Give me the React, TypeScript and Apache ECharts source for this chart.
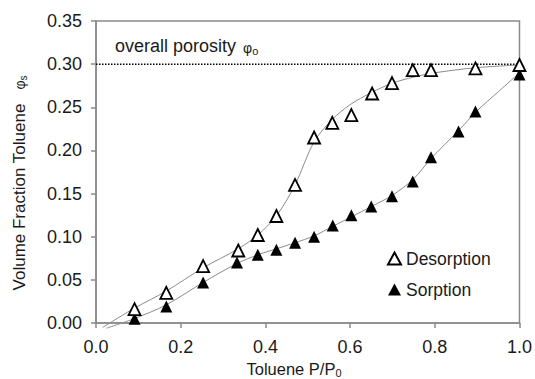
import React, { useEffect, useRef } from "react";
import * as echarts from "echarts";

// Measured points (markers)
const desorptionX = [0.091, 0.166, 0.253, 0.336, 0.382, 0.426, 0.47, 0.515, 0.558, 0.603, 0.652, 0.699, 0.748, 0.791, 0.896, 1.0];
const desorptionY = [0.016, 0.035, 0.066, 0.084, 0.102, 0.124, 0.16, 0.215, 0.232, 0.241, 0.266, 0.278, 0.293, 0.293, 0.295, 0.299];

const sorptionX = [0.091, 0.166, 0.253, 0.333, 0.382, 0.426, 0.47, 0.515, 0.559, 0.603, 0.65, 0.699, 0.748, 0.791, 0.856, 0.896, 1.0];
const sorptionY = [0.005, 0.019, 0.047, 0.07, 0.079, 0.085, 0.093, 0.1, 0.113, 0.125, 0.135, 0.147, 0.164, 0.192, 0.222, 0.245, 0.288];

// Fitted curves
const desFitX = [0.016, 0.09, 0.166, 0.253, 0.336, 0.382, 0.426, 0.47, 0.515, 0.558, 0.6, 0.65, 0.7, 0.75, 0.8, 0.9, 1.0];
const desFitY = [-0.005, 0.017, 0.037, 0.064, 0.086, 0.102, 0.124, 0.16, 0.21, 0.236, 0.253, 0.267, 0.278, 0.285, 0.29, 0.296, 0.299];

const sorFitX = [0.025, 0.09, 0.166, 0.253, 0.333, 0.382, 0.426, 0.47, 0.515, 0.559, 0.603, 0.65, 0.7, 0.75, 0.79, 0.856, 0.9, 0.95, 1.0];
const sorFitY = [-0.006, 0.005, 0.021, 0.047, 0.069, 0.079, 0.086, 0.093, 0.101, 0.112, 0.123, 0.135, 0.148, 0.167, 0.19, 0.223, 0.246, 0.268, 0.29];

const porosityX = [0, 1];
const porosityY = [0.3, 0.3];

const xTicks = { min: 0, max: 1, interval: 0.2 };
const yTicks = { min: 0, max: 0.35, interval: 0.05 };

const zip = (xs: number[], ys: number[]) => xs.map((x, i) => [x, ys[i]]);

const FONT = "'Liberation Sans', Arial, sans-serif";

export default function App() {
  const ref = useRef<HTMLDivElement>(null);
  useEffect(() => {
    if (!ref.current) return;
    const chart = echarts.init(ref.current, null, { renderer: "svg" });
    const axisColor = "#8a8a8a";
    chart.setOption({
      animation: false,
      backgroundColor: "#ffffff",
      textStyle: { fontFamily: FONT },
      grid: {
        left: 96,
        top: 21,
        right: 14,
        bottom: 56,
        show: true,
        borderColor: axisColor,
        borderWidth: 1.5,
        backgroundColor: "transparent",
      },
      xAxis: {
        type: "value",
        min: xTicks.min,
        max: xTicks.max,
        interval: xTicks.interval,
        axisLine: { show: true, lineStyle: { color: axisColor, width: 1.5 } },
        axisTick: { show: true, inside: false, length: 5, lineStyle: { color: axisColor, width: 1.5 } },
        splitLine: { show: false },
        axisLabel: {
          margin: 15,
          color: "#1a1a1a",
          fontSize: 18,
          fontFamily: FONT,
          formatter: (v: number) => v.toFixed(1),
        },
      },
      yAxis: {
        type: "value",
        min: yTicks.min,
        max: yTicks.max,
        interval: yTicks.interval,
        axisLine: { show: true, lineStyle: { color: axisColor, width: 1.5 } },
        axisTick: { show: true, inside: false, length: 5, lineStyle: { color: axisColor, width: 1.5 } },
        splitLine: { show: false },
        axisLabel: {
          margin: 14,
          color: "#1a1a1a",
          fontSize: 18,
          fontFamily: FONT,
          formatter: (v: number) => v.toFixed(2),
        },
      },
      legend: {
        data: ["Desorption", "Sorption"],
        orient: "vertical",
        left: 382,
        top: 243,
        itemWidth: 13,
        itemHeight: 12,
        itemGap: 10,
        textStyle: { fontSize: 17.5, color: "#1a1a1a", fontFamily: FONT, lineHeight: 21 },
      },
      graphic: [
        {
          type: "text",
          left: 115,
          top: 37,
          style: {
            text: "{a|overall porosity }{p|φ}{s|o}",
            rich: {
              a: { fontSize: 18, fontFamily: FONT, fill: "#1a1a1a" },
              p: { fontSize: 14, fontFamily: FONT, fill: "#1a1a1a", padding: [3, 0, 0, 2] },
              s: { fontSize: 11, fontFamily: FONT, fill: "#1a1a1a", padding: [9, 0, 0, 0] },
            },
          },
        },
        {
          type: "text",
          x: 294,
          y: 369,
          style: {
            text: "{a|Toluene P/P}{s|0}",
            align: "center",
            verticalAlign: "middle",
            rich: {
              a: { fontSize: 16.5, fontFamily: FONT, fill: "#1a1a1a" },
              s: { fontSize: 11, fontFamily: FONT, fill: "#1a1a1a", padding: [8, 0, 0, 0] },
            },
          },
        },
        {
          type: "text",
          x: 19,
          y: 183,
          rotation: Math.PI / 2,
          style: {
            text: "{a|Volume Fraction Toluene}{p|φ}{s|s}",
            align: "center",
            verticalAlign: "middle",
            rich: {
              a: { fontSize: 17, fontFamily: FONT, fill: "#1a1a1a" },
              p: { fontSize: 14, fontFamily: FONT, fill: "#1a1a1a", padding: [2, 0, 0, 14] },
              s: { fontSize: 10, fontFamily: FONT, fill: "#1a1a1a", padding: [8, 0, 0, 0] },
            },
          },
        },
      ],
      series: [
        {
          name: "porosity",
          type: "line",
          data: zip(porosityX, porosityY),
          symbol: "none",
          lineStyle: { color: "#000", width: 1.5, type: [1.5, 1.5] },
          z: 1,
          silent: true,
        },
        {
          name: "desFit",
          type: "line",
          data: zip(desFitX, desFitY),
          symbol: "none",
          smooth: 0.3,
          clip: false,
          lineStyle: { color: "#8c8c8c", width: 1 },
          z: 2,
        },
        {
          name: "sorFit",
          type: "line",
          data: zip(sorFitX, sorFitY),
          symbol: "none",
          smooth: 0.3,
          clip: false,
          lineStyle: { color: "#8c8c8c", width: 1 },
          z: 2,
        },
        {
          name: "Desorption",
          type: "scatter",
          data: zip(desorptionX, desorptionY),
          symbol: "triangle",
          symbolSize: 12,
          clip: false,
          itemStyle: { color: "#ffffff", borderColor: "#000000", borderWidth: 1.8, opacity: 1 },
          z: 5,
        },
        {
          name: "Sorption",
          type: "scatter",
          data: zip(sorptionX, sorptionY),
          symbol: "triangle",
          symbolSize: 12,
          clip: false,
          itemStyle: { color: "#000000", opacity: 1 },
          z: 4,
        },
      ],
    });
    return () => chart.dispose();
  }, []);
  return <div ref={ref} style={{ position: "fixed", left: 0, top: 0, width: 535, height: 379 }} />;
}
